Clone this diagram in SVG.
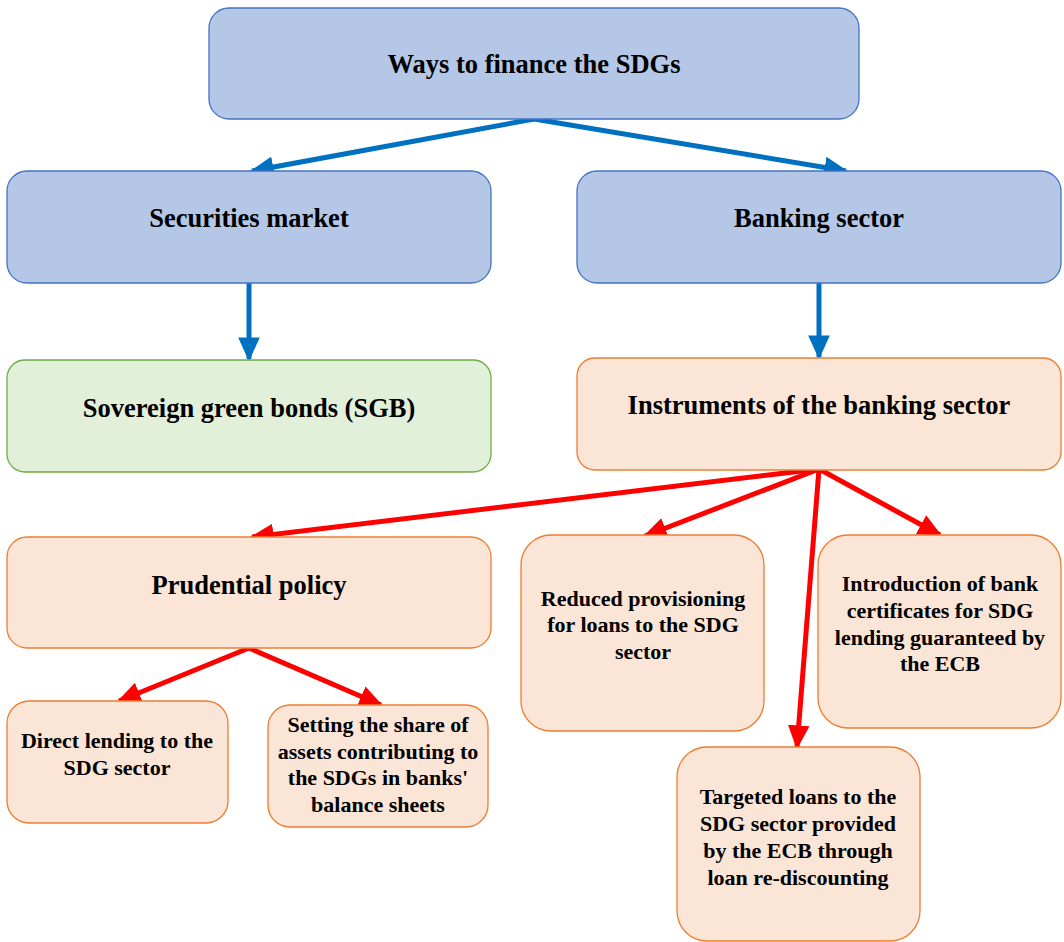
<svg xmlns="http://www.w3.org/2000/svg" width="1064" height="942" viewBox="0 0 1064 942">
<defs>
<style>
.blue rect{fill:#b4c7e7;stroke:#4472c4;stroke-width:1.3}
.green rect{fill:#e2efd9;stroke:#70ad47;stroke-width:1.3}
.orange rect{fill:#fbe5d6;stroke:#ed7d31;stroke-width:1.3}
text{font-family:"Liberation Serif","Times New Roman",serif;font-weight:bold;fill:#000;text-anchor:middle}
.big{font-size:26.5px}
.small{font-size:22px}
.cb{stroke:#0070c0;stroke-width:5;fill:none}
.cr{stroke:#ff0000;stroke-width:5;fill:none}
</style>
<marker id="ab" markerUnits="userSpaceOnUse" markerWidth="24" markerHeight="24" viewBox="0 0 20 20" refX="18" refY="10" orient="auto">
<path d="M0,1 L20,10 L0,19 Z" fill="#0070c0"/>
</marker>
<marker id="ar" markerUnits="userSpaceOnUse" markerWidth="24" markerHeight="24" viewBox="0 0 20 20" refX="18" refY="10" orient="auto">
<path d="M0,1 L20,10 L0,19 Z" fill="#ff0000"/>
</marker>
</defs>
<g id="connectors">
<line class="cb" x1="534" y1="119" x2="252" y2="171" marker-end="url(#ab)"/>
<line class="cb" x1="534" y1="119" x2="846" y2="171" marker-end="url(#ab)"/>
<line class="cb" x1="249" y1="283" x2="249" y2="359" marker-end="url(#ab)"/>
<line class="cb" x1="819" y1="283" x2="819" y2="357" marker-end="url(#ab)"/>
<line class="cr" x1="819" y1="469" x2="252" y2="537" marker-end="url(#ar)"/>
<line class="cr" x1="819" y1="469" x2="645" y2="536" marker-end="url(#ar)"/>
<line class="cr" x1="819" y1="469" x2="797" y2="747" marker-end="url(#ar)"/>
<line class="cr" x1="819" y1="469" x2="940" y2="535" marker-end="url(#ar)"/>
<line class="cr" x1="249" y1="648" x2="119" y2="701" marker-end="url(#ar)"/>
<line class="cr" x1="249" y1="648" x2="381" y2="705" marker-end="url(#ar)"/>
</g>
<g id="ways" class="blue">
<rect x="209" y="8" width="650" height="111" rx="20"/>
<text class="big" x="534" y="73">Ways to finance the SDGs</text>
</g>
<g id="securities" class="blue">
<rect x="7" y="171" width="484" height="112" rx="20"/>
<text class="big" x="249" y="227">Securities market</text>
</g>
<g id="banking" class="blue">
<rect x="577" y="171" width="484" height="112" rx="20"/>
<text class="big" x="819" y="227">Banking sector</text>
</g>
<g id="sgb" class="green">
<rect x="7" y="360" width="484" height="112" rx="18"/>
<text class="big" x="249" y="417">Sovereign green bonds (SGB)</text>
</g>
<g id="instruments" class="orange">
<rect x="577" y="358" width="484" height="112" rx="18"/>
<text class="big" x="819" y="414">Instruments of the banking sector</text>
</g>
<g id="prudential" class="orange">
<rect x="7" y="537" width="484" height="111" rx="20"/>
<text class="big" x="249" y="594">Prudential policy</text>
</g>
<g id="direct" class="orange">
<rect x="7" y="701" width="221" height="122" rx="22"/>
<text class="small" x="117" y="748">Direct lending to the</text>
<text class="small" x="117" y="775">SDG sector</text>
</g>
<g id="setting" class="orange">
<rect x="268" y="705" width="220" height="122" rx="22"/>
<text class="small" x="378" y="732">Setting the share of</text>
<text class="small" x="378" y="759">assets contributing to</text>
<text class="small" x="378" y="785">the SDGs in banks'</text>
<text class="small" x="378" y="812">balance sheets</text>
</g>
<g id="reduced" class="orange">
<rect x="521" y="535" width="243" height="196" rx="30"/>
<text class="small" x="643" y="606">Reduced provisioning</text>
<text class="small" x="643" y="632">for loans to the SDG</text>
<text class="small" x="643" y="659">sector</text>
</g>
<g id="introduction" class="orange">
<rect x="818" y="535" width="243" height="193" rx="30"/>
<text class="small" x="940" y="591">Introduction of bank</text>
<text class="small" x="940" y="618">certificates for SDG</text>
<text class="small" x="940" y="645">lending guaranteed by</text>
<text class="small" x="940" y="671">the ECB</text>
</g>
<g id="targeted" class="orange">
<rect x="677" y="747" width="243" height="194" rx="30"/>
<text class="small" x="798" y="804">Targeted loans to the</text>
<text class="small" x="798" y="831">SDG sector provided</text>
<text class="small" x="798" y="858">by the ECB through</text>
<text class="small" x="798" y="885">loan re-discounting</text>
</g>
</svg>
